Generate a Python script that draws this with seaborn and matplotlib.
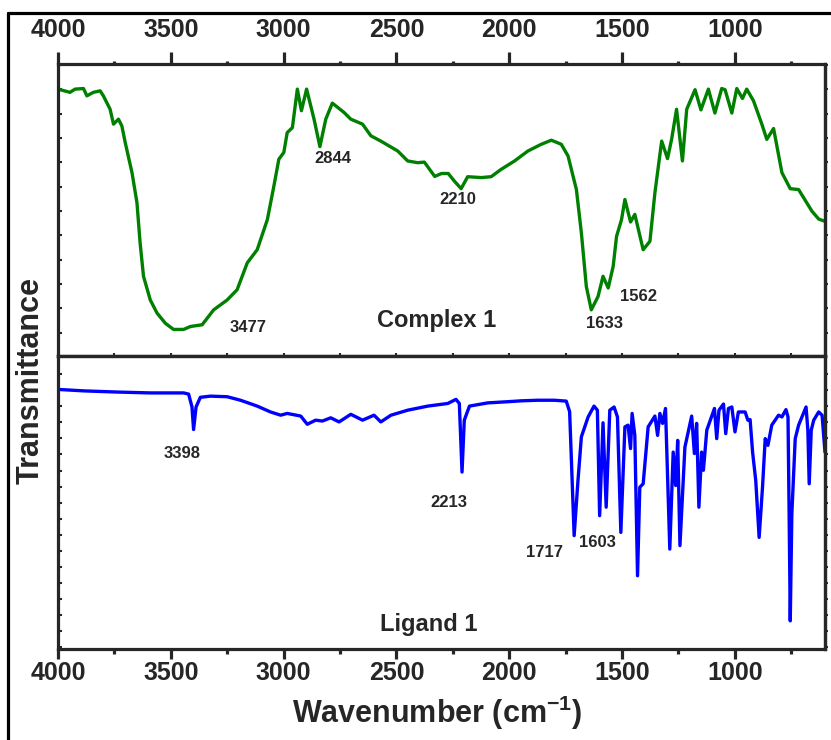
import numpy as np
import pandas as pd
import matplotlib
matplotlib.use("Agg")
import matplotlib.pyplot as plt
from matplotlib.lines import Line2D
from matplotlib.ticker import MultipleLocator, FixedLocator
import seaborn as sns

# ---------------- data ----------------
complex_wn = [4000, 3947, 3924, 3887, 3872, 3843, 3813, 3799, 3769, 3754, 3732, 3717, 3702,
              3672, 3650, 3636, 3621, 3591, 3561, 3524, 3488, 3443, 3413, 3361, 3310, 3250,
              3206, 3161, 3117, 3072, 3043, 3021, 2999, 2984, 2961, 2939, 2921, 2898, 2865,
              2839, 2813, 2784, 2732, 2702, 2650, 2613, 2569, 2494, 2450, 2406, 2376, 2330,
              2300, 2270, 2243, 2213, 2184, 2124, 2080, 2036, 1976, 1917, 1858, 1813, 1769,
              1739, 1702, 1680, 1658, 1636, 1606, 1584, 1561, 1539, 1524, 1502, 1487, 1462,
              1443, 1406, 1376, 1354, 1324, 1298, 1280, 1258, 1232, 1213, 1176, 1150, 1117,
              1088, 1058, 1043, 1013, 991, 966, 947, 917, 880, 858, 828, 791, 754, 717, 658,
              628, 600]
complex_T = [91.4, 90.3, 91.4, 91.6, 89.1, 90.3, 90.8, 89.1, 84.5, 79.4, 81.1, 78.8, 73.1,
             62.8, 52.5, 38.7, 27.3, 19.2, 14.7, 11.2, 9.1, 9.1, 10.1, 10.7, 15.8, 19.2,
             22.7, 31.9, 36.4, 46.7, 58.2, 67.4, 69.7, 76.5, 78.2, 91.4, 84.0, 91.4, 81.1,
             71.7, 81.1, 86.6, 83.4, 81.1, 79.4, 75.4, 73.6, 70.2, 66.8, 66.2, 66.4, 61.5,
             62.5, 62.5, 59.9, 57.3, 61.4, 61.1, 61.4, 63.9, 66.8, 70.2, 72.5, 73.9, 72.5,
             68.5, 57.0, 42.2, 23.8, 15.8, 20.4, 27.3, 23.3, 30.7, 41.0, 46.7, 53.6, 45.9,
             48.5, 36.4, 39.3, 55.9, 73.6, 67.6, 74.2, 84.5, 66.8, 84.5, 91.2, 84.3, 91.4,
             83.2, 91.6, 91.2, 83.2, 91.6, 88.2, 91.4, 87.4, 79.4, 74.2, 77.9, 62.8, 57.3,
             57.0, 49.6, 46.9, 46.1]

ligand_wn = [4000, 3887, 3739, 3591, 3443, 3421, 3406, 3399, 3388, 3369, 3324, 3250, 3191,
             3117, 3058, 3013, 2984, 2924, 2895, 2858, 2828, 2791, 2754, 2702, 2650, 2599,
             2569, 2524, 2450, 2361, 2272, 2236, 2221, 2209, 2199, 2176, 2095, 2006, 1947,
             1873, 1799, 1747, 1732, 1712, 1695, 1680, 1650, 1624, 1609, 1599, 1584, 1570,
             1554, 1535, 1520, 1505, 1487, 1473, 1462, 1455, 1443, 1431, 1421, 1406, 1384,
             1354, 1342, 1332, 1320, 1307, 1288, 1273, 1262, 1253, 1243, 1221, 1191, 1179,
             1169, 1159, 1147, 1139, 1124, 1090, 1080, 1070, 1050, 1040, 1028, 1013, 999,
             984, 954, 942, 932, 921, 907, 892, 877, 865, 853, 836, 806, 791, 773, 764, 759,
             754, 747, 732, 717, 684, 676, 670, 661, 650, 628, 613, 600]
ligand_T = [88.6, 88.1, 87.7, 87.4, 87.4, 87.0, 82.6, 74.9, 82.6, 85.9, 86.3, 86.1, 84.9,
            82.9, 80.9, 79.8, 80.4, 79.5, 76.7, 78.1, 77.8, 78.9, 77.5, 80.1, 78.1, 79.8,
            77.5, 79.8, 81.5, 82.9, 83.8, 85.2, 83.8, 60.4, 78.1, 82.9, 84.0, 84.4, 84.7,
            84.9, 84.9, 84.6, 81.0, 38.7, 57.5, 72.4, 79.2, 82.9, 81.5, 45.5, 77.2, 48.4,
            81.5, 82.6, 79.2, 39.8, 75.8, 76.4, 68.4, 80.4, 72.9, 25.0, 55.2, 56.4, 75.8,
            79.5, 72.9, 80.4, 77.0, 82.1, 34.1, 67.2, 55.8, 71.2, 35.3, 68.9, 79.5, 66.7,
            77.0, 48.4, 67.2, 61.0, 74.7, 82.1, 71.8, 81.5, 83.6, 73.5, 82.1, 82.6, 74.1,
            80.9, 80.9, 78.1, 78.3, 67.2, 57.5, 38.1, 55.2, 71.8, 69.5, 76.4, 79.8, 79.2, 81.7, 79.2, 46.1,
            9.6, 46.1, 71.8, 76.4, 82.6, 74.7, 56.4, 74.7, 78.1, 80.9, 79.8, 67.2]

complex_peaks = ["3477", "2844", "2210", "1633", "1562"]
ligand_peaks = ["3398", "2213", "1717", "1603"]
panel_names = ["Complex 1", "Ligand 1"]
xtick_values = [4000, 3500, 3000, 2500, 2000, 1500, 1000]

# ---------------- style ----------------
sns.set_style("ticks")
plt.rcParams["font.family"] = ["Liberation Sans", "DejaVu Sans"]
plt.rcParams["font.weight"] = "bold"
plt.rcParams["mathtext.fontset"] = "custom"
plt.rcParams["mathtext.rm"] = "Liberation Sans:bold"
plt.rcParams["mathtext.bf"] = "Liberation Sans:bold"
plt.rcParams["mathtext.default"] = "bf"

fig = plt.figure(figsize=(8.31, 7.40), dpi=100)
L, R = 58 / 831, 825 / 831
y_top, y_mid, y_bot = 1 - 64 / 740, 1 - 356 / 740, 1 - 649 / 740
ax1 = fig.add_axes([L, y_mid, R - L, y_top - y_mid])
ax2 = fig.add_axes([L, y_bot, R - L, y_mid - y_bot])

df_c = pd.DataFrame({"wn": complex_wn, "T": complex_T})
df_l = pd.DataFrame({"wn": ligand_wn, "T": ligand_T})
sns.lineplot(data=df_c, x="wn", y="T", ax=ax1, color="#008000", linewidth=2.4,
             sort=False, estimator=None)
sns.lineplot(data=df_l, x="wn", y="T", ax=ax2, color="#0000FF", linewidth=2.4,
             sort=False, estimator=None)

for ax in (ax1, ax2):
    ax.set_xlim(4000, 600)
    ax.set_ylim(0, 100)
    ax.set_xlabel("")
    ax.set_ylabel("")
    for s in ax.spines.values():
        s.set_linewidth(2.3)
        s.set_visible(True)
    ax.xaxis.set_major_locator(FixedLocator(xtick_values))
    ax.xaxis.set_minor_locator(MultipleLocator(250))

# top panel: labels on top
ax1.tick_params(axis="x", which="both", top=True, bottom=False, labeltop=True,
                labelbottom=False, direction="out", width=2.3)
ax1.tick_params(axis="x", which="major", length=8.6, pad=7.5, labelsize=18)
ax1.tick_params(axis="x", which="minor", length=2.5)
# bottom panel: labels at bottom
ax2.tick_params(axis="x", which="both", top=False, bottom=True, labeltop=False,
                labelbottom=True, direction="out", width=2.3)
ax2.tick_params(axis="x", which="major", length=7.2, pad=1.5, labelsize=18)
ax2.tick_params(axis="x", which="minor", length=3.6)
for lab in ax1.get_xticklabels() + ax2.get_xticklabels():
    lab.set_fontweight("bold")

# small ticks at the panel boundary
sec = ax2.secondary_xaxis("top")
sec.xaxis.set_major_locator(MultipleLocator(250))
sec.tick_params(axis="x", which="major", direction="out", length=2.5, width=1.5,
                labeltop=False)
sec.spines["top"].set_linewidth(2.3)

# y ticks (no labels)
ax1.yaxis.set_major_locator(FixedLocator(np.arange(8, 100, 100 / 12)))
ax2.yaxis.set_major_locator(FixedLocator(np.arange(93.8, 0, -5.48)))
for ax in (ax1, ax2):
    ax.tick_params(axis="y", which="major", left=True, right=False, direction="in",
                   length=3, width=1.5, labelleft=False)
    ax.yaxis.set_minor_locator(FixedLocator([]))
    sy = ax.secondary_yaxis("right")
    sy.yaxis.set_major_locator(ax.yaxis.get_major_locator())
    sy.tick_params(axis="y", direction="out", length=2.5, width=1.5, labelright=False)
    sy.spines["right"].set_linewidth(2.3)

# annotations
c_pos = [(3156, 9.6), (2782, 67.7), (2227, 53.6), (1578, 11.3), (1427, 20.3)]
for t, (x, y) in zip(complex_peaks, c_pos):
    ax1.text(x, y, t, ha="center", va="center", fontsize=12, fontweight="bold")
l_pos = [(3449, 66.8), (2267, 50.0), (1844, 32.9), (1609, 36.3)]
for t, (x, y) in zip(ligand_peaks, l_pos):
    ax2.text(x, y, t, ha="center", va="center", fontsize=12, fontweight="bold")
ax1.text(2320, 12.0, panel_names[0], ha="center", va="center", fontsize=17,
         fontweight="bold")
ax2.text(2356, 8.2, panel_names[1], ha="center", va="center", fontsize=17,
         fontweight="bold")

fig.text((L + R) / 2 - 0.005, 1 - 713 / 740, "Wavenumber (cm$^{\\mathbf{-1}}$)",
         ha="center", va="center", fontsize=22, fontweight="bold")
fig.text(0.037, 1 - 380 / 740, "Transmittance", rotation=90, ha="center", va="center",
         fontsize=22, fontweight="bold")

# outer frame
fx, fy = 8 / 831, 1 - 13 / 740
fig.add_artist(Line2D([fx, 1.0], [fy, fy], color="black", lw=2.3,
                      transform=fig.transFigure))
fig.add_artist(Line2D([fx, fx], [0, fy], color="black", lw=2.3,
                      transform=fig.transFigure))

fig.savefig("out.png", dpi=100)
